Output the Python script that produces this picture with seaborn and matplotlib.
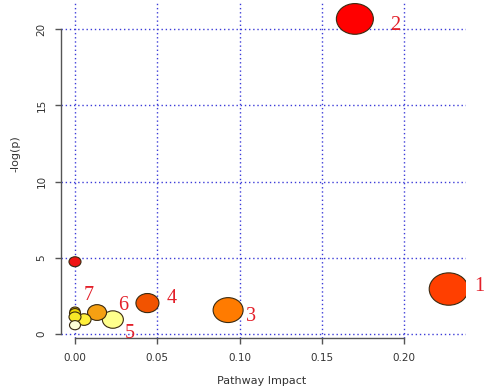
import numpy as np
import pandas as pd
import seaborn as sns
import matplotlib.pyplot as plt
from matplotlib.path import Path
from matplotlib.transforms import Affine2D

# pathway impact vs -log(p), one entry per pathway node
impact = [0.170, 0.227, 0.093, 0.044, 0.023, 0.0134, 0.0, 0.0055, 0.0, 0.0, 0.0, 0.0]
logp = [20.66, 2.95, 1.57, 2.03, 0.95, 1.41, 4.74, 0.95, 1.50, 1.37, 1.12, 0.58]
node_size = [37, 39, 30, 23, 21, 19, 12, 14, 10, 11, 12, 11]
node_label = ['2', '1', '3', '4', '5', '6', '', '', '7', '', '', '']

xticks = [0.00, 0.05, 0.10, 0.15, 0.20]
yticks = [0, 5, 10, 15, 20]

# styling
fills = ['#ff0000', '#ff3f00', '#ff7b00', '#f25300', '#ffff8c', '#f5a012',
         '#f01414', '#fff03c', '#e0b000', '#f0d800', '#f8e828', '#ffffd6']
label_offsets = {'1': (31, 3), '2': (40, -7), '3': (23, -6), '4': (24, 5),
                 '5': (17, -14), '6': (26, 7), '7': (14, 16)}

df = pd.DataFrame({'impact': impact, 'logp': logp,
                   'node': range(len(impact)),
                   's': (np.array(node_size) * 0.72) ** 2})

# slightly flattened circles, like the stretched original
ellipse = Path.unit_circle().transformed(Affine2D().scale(1.0, 0.83))

sns.set_style('white')
fig = plt.figure(figsize=(4.87, 3.9), dpi=100)
ax = fig.add_axes([61 / 487, 52 / 390, 405 / 487, 336 / 390])

sns.scatterplot(data=df, x='impact', y='logp', hue='node', palette=fills,
                size='s', sizes=(df.s.min(), df.s.max()), marker=ellipse,
                edgecolor='#3a2a10', linewidth=0.8, legend=False, ax=ax, zorder=3)

for x, y, lab in zip(impact, logp, node_label):
    if lab:
        ax.annotate(lab, (x, y), xytext=label_offsets[lab], textcoords='offset pixels',
                    ha='center', va='center', color='#e3202a', fontsize=14.5,
                    family='Liberation Serif', zorder=4)

ax.set_xlim(-0.0085, 0.2375)
ax.set_ylim(-0.26, 21.77)
ax.set_xticks(xticks)
ax.set_xticklabels(['%.2f' % t for t in xticks])
ax.set_yticks(yticks)
ax.set_yticklabels([str(t) for t in yticks], rotation=90, va='center')
ax.tick_params(axis='both', length=4.5, width=1, color='#555555', labelsize=7.5,
               labelcolor='#333333', pad=6)
ax.tick_params(axis='x', bottom=True)
ax.tick_params(axis='y', left=True)

ax.grid(True, color='#3c3cd8', linestyle=(0, (1, 2)), linewidth=1)
ax.set_axisbelow(True)

for side in ['top', 'right']:
    ax.spines[side].set_visible(False)
ax.spines['left'].set_bounds(0, 20)
ax.spines['bottom'].set_bounds(0, 0.20)
for side in ['left', 'bottom']:
    ax.spines[side].set_color('#555555')
    ax.spines[side].set_linewidth(1)

ax.set_xlabel('Pathway Impact', fontsize=8, color='#333333')
ax.set_ylabel('-log(p)', fontsize=8, color='#333333')
ax.xaxis.set_label_coords(0.496, -0.112)
ax.yaxis.set_label_coords(-0.099, 0.55)

fig.savefig('out.png', dpi=100)
